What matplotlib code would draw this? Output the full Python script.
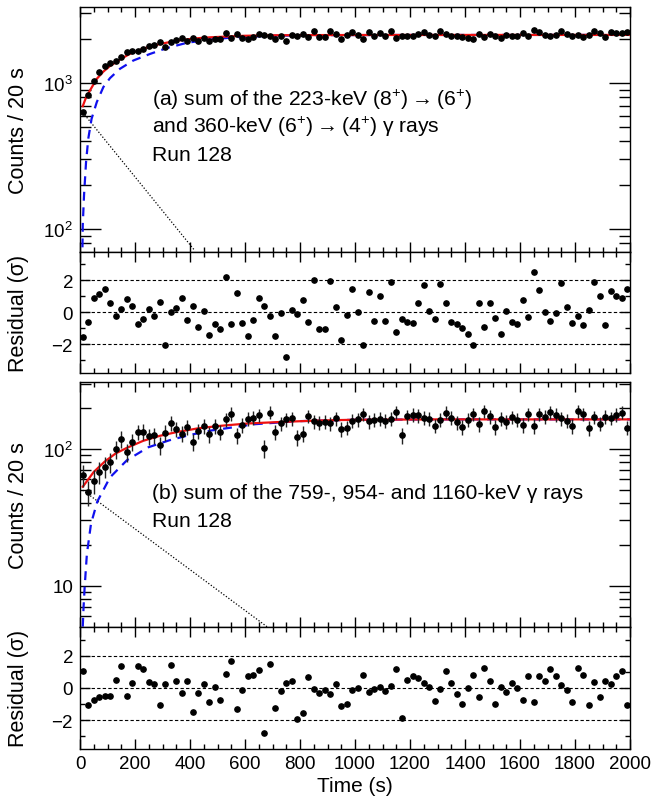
import numpy as np
import matplotlib
matplotlib.use("Agg")
import matplotlib.pyplot as plt
from matplotlib.ticker import MultipleLocator, FixedLocator, NullFormatter, FixedFormatter

plt.rcParams['font.family'] = ['Liberation Sans', 'DejaVu Sans']
plt.rcParams['mathtext.fontset'] = 'custom'
plt.rcParams['mathtext.rm'] = 'Liberation Sans'
plt.rcParams['mathtext.it'] = 'Liberation Sans:italic'
plt.rcParams['axes.linewidth'] = 1.0

# ---------------- data ----------------
time = np.arange(10, 2000, 20)  # 20-s bin centres

# (a) counts
counts_a = [636, 833, 1041, 1183, 1317, 1369, 1416, 1520, 1626, 1665,
            1652, 1719, 1801, 1812, 1903, 1759, 1920, 1963, 2025, 1952,
            2029, 1955, 2036, 1948, 2005, 1992, 2222, 2031, 2171, 2045,
            1995, 2070, 2170, 2138, 2100, 2013, 2118, 1929, 2131, 2117,
            2182, 2085, 2270, 2057, 2058, 2268, 2154, 2016, 2124, 2237,
            2139, 1998, 2228, 2099, 2208, 2099, 2271, 2052, 2110, 2095,
            2091, 2177, 2258, 2145, 2108, 2261, 2177, 2096, 2087, 2069,
            2044, 1998, 2177, 2075, 2177, 2112, 2042, 2144, 2095, 2087,
            2191, 2116, 2313, 2237, 2139, 2102, 2135, 2264, 2160, 2092,
            2122, 2084, 2148, 2268, 2211, 2081, 2232, 2211, 2203, 2238]

resid_a = [-1.55, -0.58, 0.87, 1.13, 1.48, 0.56, -0.23, 0.23, 0.82, 0.41,
           -0.70, -0.41, 0.21, -0.25, 0.64, -2.06, 0.00, 0.29, 0.87, -0.49,
           0.39, -0.93, 0.06, -1.42, -0.72, -1.05, 2.20, -0.72, 1.24, -0.68,
           -1.50, -0.47, 0.93, 0.41, -0.21, -1.50, -0.02, -2.78, 0.12, -0.12,
           0.80, -0.62, 2.04, -1.05, -1.05, 1.96, 0.31, -1.71, -0.16, 1.48,
           0.02, -2.02, 1.30, -0.56, 1.01, -0.56, 1.92, -1.24, -0.41, -0.62,
           -0.68, 0.56, 1.73, 0.10, -0.43, 1.77, 0.56, -0.60, -0.74, -0.99,
           -1.36, -2.02, 0.56, -0.91, 0.56, -0.37, -1.38, 0.08, -0.62, -0.74,
           0.76, -0.31, 2.52, 1.42, 0.02, -0.52, -0.04, 1.81, 0.31, -0.66,
           -0.23, -0.78, 0.14, 1.88, 1.05, -0.82, 1.36, 1.05, 0.93, 1.44]

fit_a_t = [10, 20, 36, 61, 85, 109, 145, 182, 230, 291, 351, 412, 472, 593, 714, 900, 1200, 2000]
fit_a_y = [695, 780, 890, 1070, 1200, 1310, 1450, 1590, 1725, 1855, 1950, 2020, 2060, 2110, 2128, 2135, 2138, 2140]
grow_a_t = [9, 10, 14.6, 22, 30, 42, 61, 85, 109, 145, 194, 255, 315, 388, 472, 569, 714, 900, 1200, 2000]
grow_a_y = [75, 106, 170, 288, 415, 569, 741, 940, 1082, 1253, 1429, 1586, 1737, 1888, 1990, 2066, 2115, 2132, 2138, 2140]
decay_a_t = [10, 418]
decay_a_y = [630, 71]

# (b) counts
counts_b = [64.9, 48.4, 58.7, 67.9, 74.4, 80.3, 99.7, 118.7, 94.9, 112.2,
            133.1, 134.2, 124.6, 126.6, 106.4, 131.7, 155.5, 140.7, 129.9, 145.0,
            112.3, 135.9, 147.3, 128.2, 147.3, 133.3, 164.9, 181.9, 126.6, 149.7,
            167.3, 170.2, 177.2, 101.3, 185.3, 133.3, 154.2, 165.0, 168.1, 122.0,
            129.5, 174.1, 159.3, 156.0, 159.1, 154.5, 167.8, 140.2, 143.9, 161.0,
            164.9, 179.8, 159.5, 163.3, 166.1, 160.7, 167.1, 187.8, 126.7, 173.7,
            178.6, 176.4, 170.3, 166.1, 148.4, 163.3, 185.2, 170.3, 156.9, 145.0,
            164.1, 180.2, 153.0, 189.0, 173.3, 145.0, 166.1, 159.1, 171.1, 163.7,
            149.2, 179.4, 147.0, 179.4, 172.9, 187.4, 179.0, 167.5, 161.5, 147.0,
            189.0, 179.8, 143.4, 171.5, 153.4, 172.9, 168.7, 179.0, 185.2, 143.8]

err_b = [12.1, 10.4, 11.5, 12.4, 12.9, 13.4, 15.0, 16.4, 14.6, 15.9,
         17.3, 17.4, 16.8, 16.9, 15.5, 17.2, 18.7, 17.8, 17.1, 18.1,
         15.9, 17.5, 18.2, 17.0, 18.2, 17.3, 19.3, 20.2, 16.9, 18.4,
         19.4, 19.6, 20.0, 15.1, 20.4, 17.3, 18.6, 19.3, 19.4, 16.6,
         17.1, 19.8, 18.9, 18.7, 18.9, 18.7, 19.4, 17.7, 18.0, 19.0,
         19.3, 20.1, 18.9, 19.2, 19.3, 19.0, 19.4, 20.6, 16.9, 19.8,
         20.0, 19.9, 19.6, 19.3, 18.3, 19.2, 20.4, 19.6, 18.8, 18.1,
         19.2, 20.1, 18.6, 20.6, 19.7, 18.1, 19.3, 18.9, 19.6, 19.2,
         18.3, 20.1, 18.2, 20.1, 19.7, 20.5, 20.1, 19.4, 19.1, 18.2,
         20.6, 20.1, 18.0, 19.6, 18.6, 19.7, 19.5, 20.1, 20.4, 18.0]

resid_b = [1.04, -1.04, -0.75, -0.54, -0.50, -0.48, 0.46, 1.35, -0.50, 0.31,
           1.33, 1.15, 0.35, 0.27, -1.08, 0.21, 1.40, 0.42, -0.31, 0.40,
           -1.50, -0.31, 0.21, -0.90, 0.04, -0.77, 0.83, 1.65, -1.31, -0.15,
           0.71, 0.81, 1.13, -2.83, 1.46, -1.25, -0.21, 0.31, 0.44, -1.94,
           -1.58, 0.67, -0.10, -0.29, -0.15, -0.40, 0.25, -1.15, -0.98, -0.13,
           0.02, 0.77, -0.25, -0.06, 0.08, -0.19, 0.13, 1.17, -1.90, 0.46,
           0.71, 0.60, 0.29, 0.08, -0.81, -0.06, 1.04, 0.29, -0.38, -0.98,
           -0.02, 0.79, -0.58, 1.23, 0.44, -0.98, 0.08, -0.27, 0.33, -0.04,
           -0.77, 0.75, -0.88, 0.75, 0.42, 1.15, 0.73, 0.15, -0.15, -0.88,
           1.23, 0.77, -1.06, 0.35, -0.56, 0.42, 0.21, 0.73, 1.04, -1.04]

fit_b_t = [10, 30, 50, 90, 130, 170, 230, 290, 350, 430, 510, 610, 730, 870, 1000, 1300, 2000]
fit_b_y = [53, 60, 68, 81, 93, 102, 115, 125, 133, 142, 148, 154, 158, 162, 164, 165, 165]
grow_b_t = [10, 13, 17, 25, 40, 63, 109, 171, 248, 325, 400, 479, 633, 787, 1000, 1300, 2000]
grow_b_y = [5.0, 7.0, 9.8, 17, 28.4, 41.3, 62, 83, 103, 116, 127, 137, 152, 160, 164, 165, 165]
decay_b_t = [10, 680]
decay_b_y = [50, 5.0]

# ---------------- figure ----------------
W, H = 663, 804
fig = plt.figure(figsize=(W / 100, H / 100), dpi=100)

def frac(x0, y0, x1, y1):
    return [x0 / W, 1 - y1 / H, (x1 - x0) / W, (y1 - y0) / H]

axA = fig.add_axes(frac(80, 7.5, 630, 252.7))
axRA = fig.add_axes(frac(80, 252.7, 630, 374))
axB = fig.add_axes(frac(80, 383, 630, 627.7))
axRB = fig.add_axes(frac(80, 627.7, 630, 750))

FS = 13.5     # tick labels
FL = 15.5     # axis titles
FT = 15.2     # annotations

def style_x(ax, labels):
    ax.set_xlim(0, 2000)
    ax.xaxis.set_major_locator(MultipleLocator(200))
    ax.xaxis.set_minor_locator(MultipleLocator(50))
    ax.tick_params(axis='x', which='major', direction='in', length=7, width=1, top=True, bottom=True)
    ax.tick_params(axis='x', which='minor', direction='in', length=3.5, width=1, top=True, bottom=True)
    if not labels:
        ax.tick_params(axis='x', labelbottom=False)
    else:
        ax.tick_params(axis='x', labelsize=FS, pad=4)

def main_panel(ax, t, y, ft, fy, gt, gy, dt, dy, ylim, major, majlab, minor, yerr=None):
    style_x(ax, False)
    ax.set_yscale('log')
    ax.set_ylim(*ylim)
    ax.plot(dt, dy, color='black', lw=0.9, ls=(0, (1, 1.5)), zorder=2)
    ax.plot(gt, gy, color='#1010ee', lw=1.6, ls=(0, (4, 3)), zorder=3)
    ax.plot(ft, fy, color='#ee1010', lw=1.6, zorder=4)
    if yerr is not None:
        ax.errorbar(t, y, yerr=yerr, fmt='o', color='black', ms=3.8, elinewidth=1.0,
                    ecolor='#222222', capsize=0, zorder=5)
    else:
        ax.plot(t, y, 'o', color='black', ms=3.8, zorder=5)
    ax.yaxis.set_major_locator(FixedLocator(major))
    ax.yaxis.set_major_formatter(FixedFormatter(majlab))
    ax.yaxis.set_minor_locator(FixedLocator(minor))
    ax.yaxis.set_minor_formatter(NullFormatter())
    ax.tick_params(axis='y', which='major', direction='in', length=15, width=1,
                   left=True, right=True, labelsize=FS, pad=5)
    ax.tick_params(axis='y', which='minor', direction='in', length=8, width=1, left=True, right=True)
    ax.set_ylabel('Counts / 20 s', fontsize=FL)

def resid_panel(ax, t, r, labels):
    style_x(ax, labels)
    ax.set_ylim(-3.8, 3.8)
    for lv in (-2, 0, 2):
        ax.axhline(lv, color='black', lw=0.8, ls=(0, (3, 2)), zorder=1)
    ax.plot(t, r, 'o', color='black', ms=3.8, zorder=3)
    ax.yaxis.set_major_locator(FixedLocator([-2, 0, 2]))
    ax.yaxis.set_major_formatter(FixedFormatter(['\u22122', '0', '2']))
    ax.yaxis.set_minor_locator(FixedLocator([-3, -1, 1, 3]))
    ax.tick_params(axis='y', which='major', direction='in', length=7, width=1,
                   left=True, right=True, labelsize=FS, pad=5)
    ax.tick_params(axis='y', which='minor', direction='in', length=3.5, width=1, left=True, right=True)
    ax.set_ylabel('Residual (\u03c3)', fontsize=FL)

minor_a = [80, 90, 200, 300, 400, 500, 600, 700, 800, 900, 2000, 3000]
main_panel(axA, time, counts_a, fit_a_t, fit_a_y, grow_a_t, grow_a_y, decay_a_t, decay_a_y,
           (70, 3350), [100, 1000], ['10$^{2}$', '10$^{3}$'], minor_a)
resid_panel(axRA, time, resid_a, False)

minor_b = [6, 7, 8, 9, 20, 30, 40, 50, 60, 70, 80, 90, 200, 300]
main_panel(axB, time, counts_b, fit_b_t, fit_b_y, grow_b_t, grow_b_y, decay_b_t, decay_b_y,
           (5.0, 310), [10, 100], ['10', '10$^{2}$'], minor_b, yerr=err_b)
resid_panel(axRB, time, resid_b, True)
axRB.set_xlabel('Time (s)', fontsize=FL - 0.5, labelpad=3)

# align y labels
for ax in (axA, axRA, axB, axRB):
    ax.yaxis.set_label_coords(-0.093, 0.5)

axA.text(0.131, 0.622, '(a) sum of the 223-keV (8$^{+}$)$\\rightarrow$(6$^{+}$)', transform=axA.transAxes,
         fontsize=FT, va='center', ha='left')
axA.text(0.131, 0.512, 'and 360-keV (6$^{+}$)$\\rightarrow$(4$^{+}$) \u03b3 rays', transform=axA.transAxes,
         fontsize=FT, va='center', ha='left')
axA.text(0.131, 0.395, 'Run 128', transform=axA.transAxes, fontsize=FT, va='center', ha='left')

axB.text(0.131, 0.55, '(b) sum of the 759-, 954- and 1160-keV \u03b3 rays', transform=axB.transAxes,
         fontsize=FT, va='center', ha='left')
axB.text(0.131, 0.435, 'Run 128', transform=axB.transAxes, fontsize=FT, va='center', ha='left')

fig.savefig('out.png', dpi=100)
